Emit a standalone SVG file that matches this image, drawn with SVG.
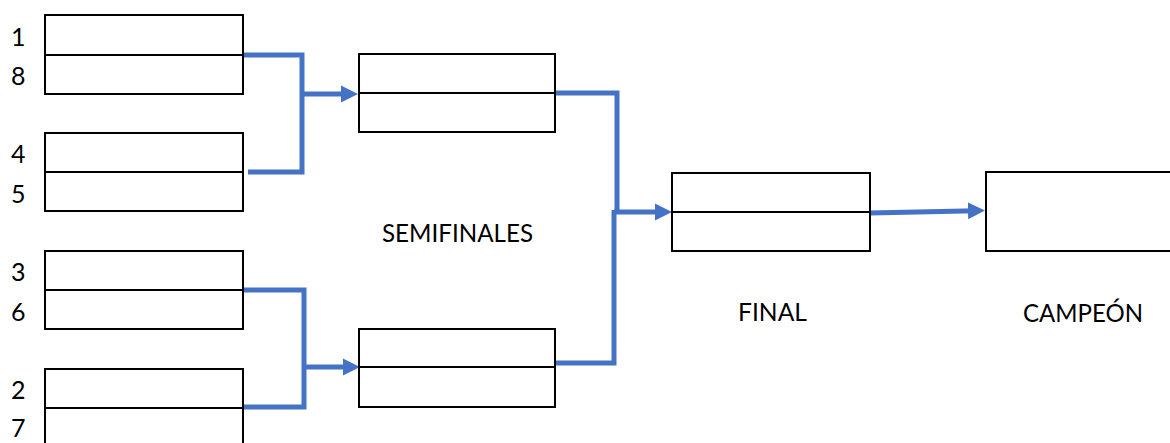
<svg xmlns="http://www.w3.org/2000/svg" width="1170" height="443" viewBox="0 0 1170 443">
<style>
.box{fill:#fff;stroke:#000;stroke-width:2}
.mid{stroke:#000;stroke-width:2}
.con{fill:none;stroke:#4472C4;stroke-width:5}
.num{font-family:Lato,"Open Sans",sans-serif;font-size:25px;fill:#000}
.lbl{font-family:Lato,"Open Sans",sans-serif;font-size:25px;fill:#000}
</style>
<defs>
<marker id="ah" markerUnits="userSpaceOnUse" markerWidth="18" markerHeight="18" refX="8" refY="9" orient="auto">
<path d="M0,0.5 L17,9 L0,17.5 Z" fill="#4472C4"/>
</marker>
</defs>
<rect width="1170" height="443" fill="#fff"/>
<g id="connectors">
<path class="con" d="M243,55 H302 V172 H248"/>
<path class="con" d="M302,94 H349" marker-end="url(#ah)"/>
<path class="con" d="M240,290 H304 V407 H243"/>
<path class="con" d="M304,367 H351" marker-end="url(#ah)"/>
<path class="con" d="M555,93 H617 V212"/>
<path class="con" d="M555,363 H614 V210"/>
<path class="con" d="M614,212 H663" marker-end="url(#ah)"/>
<path class="con" d="M870,213 L976,210.7" marker-end="url(#ah)"/>
</g>
<g id="qf1"><rect class="box" x="45" y="15" width="198" height="79"/><line class="mid" x1="45" y1="55" x2="243" y2="55"/></g>
<g id="qf2"><rect class="box" x="45" y="133" width="198" height="78"/><line class="mid" x1="45" y1="172" x2="243" y2="172"/></g>
<g id="qf3"><rect class="box" x="45" y="251" width="198" height="78"/><line class="mid" x1="45" y1="290" x2="243" y2="290"/></g>
<g id="qf4"><rect class="box" x="45" y="369" width="198" height="78"/><line class="mid" x1="45" y1="408" x2="243" y2="408"/></g>
<g id="sf1"><rect class="box" x="359" y="54" width="196" height="78"/><line class="mid" x1="359" y1="93" x2="555" y2="93"/></g>
<g id="sf2"><rect class="box" x="359" y="329" width="196" height="78"/><line class="mid" x1="359" y1="367" x2="555" y2="367"/></g>
<g id="final"><rect class="box" x="672" y="173" width="198" height="78"/><line class="mid" x1="672" y1="212" x2="870" y2="212"/></g>
<g id="champion"><rect class="box" x="986" y="172" width="200" height="79"/></g>
<g id="labels">
<text class="num" x="11" y="46">1</text>
<text class="num" x="11" y="85">8</text>
<text class="num" x="11" y="163">4</text>
<text class="num" x="11" y="203">5</text>
<text class="num" x="11" y="281">3</text>
<text class="num" x="11" y="321">6</text>
<text class="num" x="11" y="399">2</text>
<text class="num" x="11" y="437">7</text>
<text class="lbl" x="382" y="242" textLength="151" lengthAdjust="spacingAndGlyphs">SEMIFINALES</text>
<text class="lbl" x="738" y="321" textLength="69" lengthAdjust="spacingAndGlyphs">FINAL</text>
<text class="lbl" x="1023" y="322" textLength="120" lengthAdjust="spacingAndGlyphs">CAMPEÓN</text>
</g>
</svg>
